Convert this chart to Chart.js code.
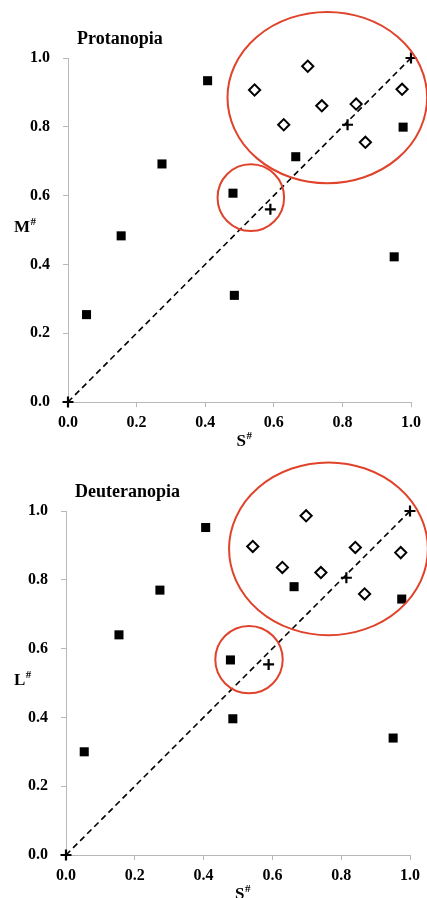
<!DOCTYPE html>
<html>
<head>
<meta charset="utf-8">
<script src="https://cdn.jsdelivr.net/npm/chart.js@4.4.0/dist/chart.umd.min.js"></script>
<style>
  body { margin: 0; background: #fff; }
  .wrap { width: 427px; height: 449px; }
</style>
</head>
<body>
<div class="wrap"><canvas id="protChart" width="427" height="449"></canvas></div>
<div class="wrap"><canvas id="deutChart" width="427" height="449"></canvas></div>
<script>
// ─── DATA ───
const tickValues = [0, 0.2, 0.4, 0.6, 0.8, 1.0];

// Protanopia (S# vs M#)
const protSquareX  = [0.054, 0.155, 0.274, 0.407, 0.481, 0.485, 0.664, 0.951, 0.977];
const protSquareY  = [0.254, 0.483, 0.692, 0.934, 0.607, 0.310, 0.713, 0.422, 0.799];
const protDiamondX = [0.544, 0.629, 0.699, 0.740, 0.840, 0.867, 0.974];
const protDiamondY = [0.907, 0.806, 0.976, 0.861, 0.866, 0.755, 0.909];
const protCrossX   = [0.0, 0.590, 0.815, 1.0];
const protCrossY   = [0.0, 0.560, 0.806, 1.0];
// rings: [centerX, centerY, radiusX, radiusY] in data units
const protRings    = [[0.756, 0.885, 0.291, 0.249], [0.533, 0.594, 0.097, 0.097]];

// Deuteranopia (S# vs L#)
const deutSquareX  = [0.053, 0.154, 0.273, 0.406, 0.478, 0.485, 0.663, 0.951, 0.976];
const deutSquareY  = [0.300, 0.640, 0.770, 0.952, 0.567, 0.396, 0.780, 0.340, 0.744];
const deutDiamondX = [0.543, 0.629, 0.698, 0.741, 0.841, 0.868, 0.973];
const deutDiamondY = [0.897, 0.836, 0.986, 0.821, 0.894, 0.759, 0.879];
const deutCrossX   = [0.0, 0.589, 0.815, 1.0];
const deutCrossY   = [0.0, 0.554, 0.806, 1.0];
const deutRings    = [[0.763, 0.890, 0.289, 0.251], [0.532, 0.568, 0.098, 0.098]];

const diagX = [0, 1];
const diagY = [0, 1];

// ─── HELPERS ───
const SERIF = "'Liberation Serif', 'Times New Roman', serif";
const AXIS_GREY = '#b8b8b8';
const RING_RED = '#e0432b';

const pts = (xs, ys) => xs.map((x, i) => ({ x, y: ys[i] }));

// rings + titles drawn through the chart scales
const extrasPlugin = {
    id: 'extras',
    afterDatasetsDraw(chart, args, opts) {
        const { ctx, chartArea, scales: { x, y } } = chart;
        ctx.save();
        ctx.strokeStyle = RING_RED;
        ctx.lineWidth = 2;
        opts.rings.forEach(r => {
            const cx = x.getPixelForValue(r[0]);
            const cy = y.getPixelForValue(r[1]);
            const rx = x.getPixelForValue(r[0] + r[2]) - cx;
            const ry = cy - y.getPixelForValue(r[1] + r[3]);
            ctx.beginPath();
            ctx.ellipse(cx, cy, rx, ry, 0, 0, Math.PI * 2);
            ctx.stroke();
        });

        ctx.fillStyle = '#000';
        ctx.textBaseline = 'alphabetic';
        ctx.textAlign = 'left';
        // chart title
        ctx.font = 'bold 18px ' + SERIF;
        ctx.fillText(opts.title, chartArea.left + 9, chartArea.top - 14);

        // axis titles with superscript #
        const supText = (base, bx, by) => {
            ctx.font = 'bold 17px ' + SERIF;
            ctx.fillText(base, bx, by);
            const w = ctx.measureText(base).width;
            ctx.font = 'bold 11px ' + SERIF;
            ctx.fillText('#', bx + w + 0.5, by - 7);
        };
        const midY = (chartArea.top + chartArea.bottom) / 2;
        const midX = (chartArea.left + chartArea.right) / 2;
        supText(opts.yTitle, 14, midY + 1.5);
        supText('S', midX - 3, chartArea.bottom + 44);
        ctx.restore();
    }
};

function makeChart(id, cfg) {
    const axis = (extra) => Object.assign({
        type: 'linear',
        min: 0,
        max: 1,
        grid: { drawOnChartArea: false, drawTicks: true, tickLength: 5, color: AXIS_GREY },
        border: { display: true, color: AXIS_GREY, width: 1 },
        afterBuildTicks: s => { s.ticks = tickValues.map(v => ({ value: v })); },
        ticks: {
            color: '#000',
            font: { family: SERIF, size: 16, weight: 'bold' },
            callback: v => v.toFixed(1)
        }
    }, extra);

    return new Chart(document.getElementById(id), {
        type: 'scatter',
        data: {
            datasets: [
                {
                    data: pts(cfg.sqX, cfg.sqY),
                    pointStyle: 'rect', pointRadius: 6.4, pointHoverRadius: 6.4,
                    backgroundColor: '#000', borderColor: '#000', borderWidth: 0,
                    clip: false, order: 1
                },
                {
                    data: pts(cfg.dmX, cfg.dmY),
                    pointStyle: 'rectRot', pointRadius: 5.6, pointHoverRadius: 5.6,
                    backgroundColor: '#fff', borderColor: '#000', borderWidth: 2,
                    clip: false, order: 1
                },
                {
                    data: pts(cfg.crX, cfg.crY),
                    pointStyle: 'cross', pointRadius: 5.5, pointHoverRadius: 5.5,
                    backgroundColor: '#000', borderColor: '#000', borderWidth: 2.2,
                    clip: false, order: 1
                },
                {
                    data: pts(diagX, diagY),
                    showLine: true, pointRadius: 0, pointHoverRadius: 0,
                    borderColor: '#000', borderWidth: 1.6, borderDash: [6, 4],
                    clip: false, order: 10
                }
            ]
        },
        options: {
            responsive: false,
            animation: false,
            events: [],
            layout: { padding: { top: cfg.top, right: cfg.right, left: 0, bottom: 0 } },
            plugins: {
                legend: { display: false },
                tooltip: { enabled: false },
                extras: { rings: cfg.rings, title: cfg.title, yTitle: cfg.yTitle }
            },
            scales: {
                x: axis({
                    position: 'bottom',
                    afterFit: s => { s.height = cfg.xh; },
                    ticks: Object.assign({}, axis({}).ticks, { padding: 6, maxRotation: 0 })
                }),
                y: axis({
                    position: 'left',
                    afterFit: s => { s.width = cfg.yw; },
                    ticks: Object.assign({}, axis({}).ticks, { padding: 13 })
                })
            }
        },
        plugins: [extrasPlugin]
    });
}

// ─── INIT ───
makeChart('protChart', {
    sqX: protSquareX, sqY: protSquareY,
    dmX: protDiamondX, dmY: protDiamondY,
    crX: protCrossX, crY: protCrossY,
    rings: protRings, title: 'Protanopia', yTitle: 'M',
    top: 58, right: 15, yw: 68, xh: 47
});

makeChart('deutChart', {
    sqX: deutSquareX, sqY: deutSquareY,
    dmX: deutDiamondX, dmY: deutDiamondY,
    crX: deutCrossX, crY: deutCrossY,
    rings: deutRings, title: 'Deuteranopia', yTitle: 'L',
    top: 62, right: 17, yw: 66, xh: 43
});
</script>
</body>
</html>
